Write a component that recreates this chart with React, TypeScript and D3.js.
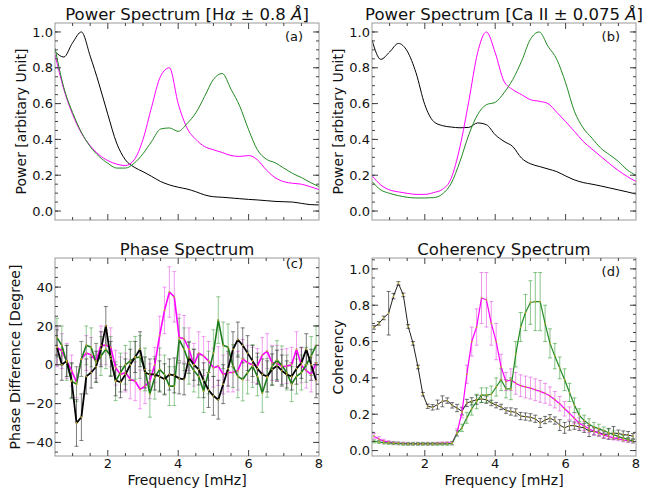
import React from 'react';
import * as d3 from 'd3';

// frequency grid (mHz) for the power spectra
const freqPow = [0.5, 0.75, 1, 1.25, 1.5, 1.75, 2, 2.25, 2.5, 2.75, 3, 3.25, 3.5, 3.75, 4, 4.25,
  4.5, 4.75, 5, 5.25, 5.5, 5.75, 6, 6.25, 6.5, 6.75, 7, 7.25, 7.5, 7.75, 8];

// (a) H-alpha power
const haBlack = [0.89, 0.86, 0.94, 1.0, 0.865, 0.71, 0.54, 0.38, 0.286, 0.245, 0.22, 0.193, 0.165, 0.146, 0.133, 0.123,
  0.108, 0.09, 0.08, 0.077, 0.073, 0.069, 0.065, 0.062, 0.058, 0.054, 0.052, 0.05, 0.043, 0.036, 0.034];
const haMagenta = [0.875, 0.68, 0.54, 0.435, 0.365, 0.314, 0.282, 0.262, 0.254, 0.286, 0.40, 0.585, 0.753, 0.80, 0.60, 0.464,
  0.40, 0.36, 0.342, 0.327, 0.31, 0.305, 0.31, 0.286, 0.23, 0.187, 0.164, 0.155, 0.15, 0.136, 0.12];
const haGreen = [0.91, 0.69, 0.55, 0.44, 0.36, 0.305, 0.267, 0.24, 0.24, 0.267, 0.32, 0.39, 0.458, 0.464, 0.445, 0.488,
  0.548, 0.64, 0.735, 0.768, 0.68, 0.585, 0.454, 0.342, 0.29, 0.27, 0.24, 0.21, 0.187, 0.16, 0.136];

// (b) Ca II power
const caBlack = [0.955, 0.847, 0.888, 0.936, 0.893, 0.772, 0.594, 0.50, 0.477, 0.469, 0.465, 0.467, 0.492, 0.482, 0.426, 0.389,
  0.36, 0.295, 0.264, 0.249, 0.235, 0.22, 0.196, 0.174, 0.159, 0.15, 0.14, 0.129, 0.118, 0.107, 0.095];
const caMagenta = [0.198, 0.146, 0.118, 0.107, 0.099, 0.093, 0.093, 0.103, 0.121, 0.183, 0.36, 0.613, 0.884, 1.0, 0.884, 0.725,
  0.678, 0.65, 0.622, 0.613, 0.60, 0.551, 0.50, 0.445, 0.389, 0.346, 0.305, 0.264, 0.226, 0.193, 0.165];
const caGreen = [0.165, 0.118, 0.099, 0.086, 0.077, 0.073, 0.073, 0.075, 0.095, 0.155, 0.277, 0.426, 0.538, 0.594, 0.607, 0.66,
  0.735, 0.837, 0.959, 1.0, 0.92, 0.847, 0.716, 0.557, 0.464, 0.407, 0.351, 0.314, 0.277, 0.23, 0.20];

// frequency bins (mHz) for phase and coherency
const freqCross = [
  0.556, 0.694, 0.833, 0.972, 1.111, 1.250, 1.389, 1.528, 1.667, 1.806,
  1.944, 2.083, 2.222, 2.361, 2.500, 2.639, 2.778, 2.917, 3.056, 3.194,
  3.333, 3.472, 3.611, 3.750, 3.889, 4.028, 4.167, 4.306, 4.444, 4.583,
  4.722, 4.861, 5.000, 5.139, 5.278, 5.417, 5.556, 5.694, 5.833, 5.972,
  6.111, 6.250, 6.389, 6.528, 6.667, 6.806, 6.944, 7.083, 7.222, 7.361,
  7.500, 7.639, 7.778, 7.917];

// (c) phase difference, degrees
const phaseBlack = [
  9, 0, 2, -8, -30, -27, -6, -4, -1, 8,
  20, 3, -8, -9, -5, 0, 4, 8, -4, -5,
  -5, -6, -7.5, -5, -5.5, -7, -7.5, 3.6, 0, -2.4,
  -8, -13, -16, -18, -10, -2, 8, 13, 10, 6,
  2, -2, -5, -6, -2.4, -0.5, -3, -5, -6, -2,
  1, 8, 0, -8];
const phaseMagenta = [
  9, 7, 2, -3, -9, 3, 6, 5, 2, 10,
  10, 9, -1.5, -5, -4, -7.5, -8.5, -12.7, -11, -8.5,
  0, 15, 28, 37.5, 35, 14, 13.4, 8, 0, 6,
  4.5, 2, -1.5, -0.7, -5, -4, -4, -3, 3, 1,
  0, -0.7, 5, 7, 1, 1, -1, -0.7, 0, 8,
  -0.3, -3, -5, 1];
const phaseGreen = [
  14, 10, 1, -8.5, -10, 3, 10, 9, 1, 4.5,
  8, 4.5, -8.5, -4, 0, 2, 3.6, 4, -2.4, -15,
  -6.7, -2.4, -5, -11, -11, 13, 8, 1, -3, -6,
  -13.6, -4, 6, 23, 10, 9, -0.7, -6, -7.6, -4,
  -0.7, -6, -14.5, -6.7, -0.7, 2.4, -0.3, -4, -10, -6,
  -4, 0, 4.5, 10];
const phaseErrBlack = [
  9, 8, 8, 9, 12, 12, 9, 8, 8, 9,
  10, 9, 8, 8, 8, 8, 8, 9, 8, 8,
  8, 8, 8, 8, 9, 8, 8, 8, 8, 8,
  9, 9, 10, 10, 10, 9, 9, 9, 9, 9,
  8, 8, 8, 8, 8, 8, 8, 7, 7, 8,
  8, 8, 8, 9];
const phaseErrMagenta = [
  10, 9, 9, 8, 8, 9, 9, 9, 9, 10,
  10, 10, 9, 9, 10, 10, 10, 10, 9, 9,
  9, 10, 12, 13, 13, 12, 12, 11, 11, 11,
  10, 10, 10, 10, 10, 10, 10, 10, 10, 9,
  9, 9, 9, 9, 9, 9, 9, 9, 9, 9,
  9, 9, 9, 9];
const phaseErrGreen = [
  10, 10, 9, 9, 9, 9, 10, 10, 10, 10,
  10, 10, 10, 10, 10, 10, 11, 11, 11, 12,
  11, 11, 10, 10, 10, 11, 11, 11, 11, 11,
  11, 11, 12, 12, 12, 12, 11, 11, 11, 11,
  11, 10, 10, 10, 10, 10, 10, 9, 9, 9,
  9, 9, 10, 10];

// (d) coherency
const cohBlack = [
  0.678, 0.70, 0.73, 0.756, 0.85, 0.92, 0.857, 0.683, 0.59, 0.46,
  0.31, 0.244, 0.238, 0.253, 0.271, 0.275, 0.249, 0.234, 0.216, 0.262,
  0.271, 0.28, 0.284, 0.28, 0.262, 0.25, 0.24, 0.22, 0.215, 0.21,
  0.19, 0.187, 0.183, 0.175, 0.152, 0.168, 0.178, 0.165, 0.14, 0.125,
  0.137, 0.137, 0.13, 0.125, 0.107, 0.106, 0.10, 0.088, 0.092, 0.097,
  0.093, 0.088, 0.085, 0.079];
const cohMagenta = [
  0.079, 0.064, 0.052, 0.046, 0.042, 0.04, 0.039, 0.038, 0.038, 0.038,
  0.038, 0.038, 0.038, 0.039, 0.04, 0.041, 0.042, 0.10, 0.21, 0.42,
  0.60, 0.68, 0.84, 0.83, 0.70, 0.60, 0.46, 0.38, 0.39, 0.37,
  0.357, 0.35, 0.344, 0.335, 0.326, 0.315, 0.30, 0.28, 0.258, 0.23,
  0.205, 0.178, 0.15, 0.135, 0.12, 0.106, 0.095, 0.085, 0.078, 0.07,
  0.064, 0.058, 0.054, 0.051];
const cohGreen = [
  0.05, 0.047, 0.044, 0.042, 0.04, 0.039, 0.037, 0.037, 0.037, 0.037,
  0.037, 0.037, 0.037, 0.037, 0.037, 0.037, 0.04, 0.095, 0.125, 0.18,
  0.23, 0.27, 0.305, 0.305, 0.31, 0.35, 0.39, 0.34, 0.34, 0.53,
  0.68, 0.76, 0.815, 0.82, 0.82, 0.70, 0.59, 0.52, 0.455, 0.39,
  0.32, 0.25, 0.195, 0.165, 0.145, 0.13, 0.12, 0.11, 0.098, 0.088,
  0.078, 0.068, 0.06, 0.052];
const cohErrBlack = [
  0.01, 0.01, 0.01, 0.12, 0.015, 0.01, 0.01, 0.01, 0.01, 0.01,
  0.01, 0.012, 0.015, 0.025, 0.03, 0.015, 0.015, 0.02, 0.02, 0.02,
  0.02, 0.025, 0.02, 0.02, 0.015, 0.015, 0.015, 0.015, 0.02, 0.02,
  0.02, 0.02, 0.02, 0.02, 0.025, 0.02, 0.02, 0.02, 0.03, 0.03,
  0.025, 0.02, 0.02, 0.025, 0.03, 0.02, 0.02, 0.02, 0.03, 0.035,
  0.02, 0.02, 0.02, 0.015];
const cohErrMagenta = [
  0.015, 0.012, 0.01, 0.008, 0.008, 0.007, 0.007, 0.007, 0.007, 0.007,
  0.007, 0.007, 0.007, 0.007, 0.007, 0.007, 0.008, 0.02, 0.03, 0.05,
  0.08, 0.1, 0.14, 0.15, 0.12, 0.1, 0.07, 0.05, 0.06, 0.06,
  0.06, 0.06, 0.06, 0.06, 0.06, 0.055, 0.05, 0.045, 0.04, 0.04,
  0.035, 0.03, 0.03, 0.025, 0.02, 0.02, 0.015, 0.015, 0.012, 0.012,
  0.01, 0.01, 0.01, 0.01];
const cohErrGreen = [
  0.008, 0.008, 0.008, 0.008, 0.008, 0.008, 0.008, 0.008, 0.008, 0.008,
  0.008, 0.008, 0.008, 0.008, 0.008, 0.008, 0.01, 0.015, 0.02, 0.03,
  0.035, 0.04, 0.04, 0.04, 0.045, 0.05, 0.06, 0.05, 0.06, 0.07,
  0.08, 0.1, 0.12, 0.16, 0.16, 0.1, 0.08, 0.07, 0.06, 0.06,
  0.05, 0.04, 0.035, 0.03, 0.03, 0.025, 0.025, 0.02, 0.02, 0.02,
  0.018, 0.015, 0.012, 0.01];

const FONT = 'DejaVu Sans, Verdana, sans-serif';
const BLACK = '#000000';
const MAGENTA = '#ff00ff';
const GREEN = '#228b22';
const xDomain: [number, number] = [0.5, 8];

type Series = {
  x: number[];
  y: number[];
  err?: number[];
  color: string;
  errColor?: string;
  width: number;
  smooth?: boolean;
  dots?: boolean;
};

interface PanelProps {
  id: string;
  left: number; right: number; top: number; bottom: number;
  yDomain: [number, number];
  yMajor: number[];
  yMinor: number[];
  fmt: (v: number) => string;
  xLabels: boolean;
  title: React.ReactNode;
  titleY: number;
  tag: string;
  tagY: number;
  yLabel: string;
  yLabelX: number;
  series: Series[];
}

const Panel = (p: PanelProps) => {
  const x = d3.scaleLinear().domain(xDomain).range([p.left, p.right]);
  const y = d3.scaleLinear().domain(p.yDomain).range([p.bottom, p.top]);
  const xMajor = [2, 4, 6];
  const xMinor = d3.range(1, 8, 0.5).filter(v => v % 2 !== 0);
  const inside = (v: number) => v > p.yDomain[0] + 1e-6 && v < p.yDomain[1] - 1e-6;
  const cx = (p.left + p.right) / 2;

  const lineFor = (s: Series) => d3.line<number>()
    .x((_, i) => x(s.x[i]))
    .y(d => y(d))
    .curve(s.smooth ? d3.curveMonotoneX : d3.curveLinear)(s.y) || '';

  return (
    <g>
      <defs>
        <clipPath id={`clip-${p.id}`}>
          <rect x={p.left} y={p.top} width={p.right - p.left} height={p.bottom - p.top} />
        </clipPath>
      </defs>
      <g clipPath={`url(#clip-${p.id})`}>
        {p.series.filter(s => s.err).map((s, si) => (
          <g key={`e${si}`} stroke={s.errColor} strokeWidth={1}>
            {s.y.map((v, i) => {
              const e = s.err![i] ?? 0;
              const px = x(s.x[i]);
              const y1 = y(v - e), y2 = y(v + e);
              return (
                <g key={i}>
                  <line x1={px} x2={px} y1={y1} y2={y2} />
                  <line x1={px - 2} x2={px + 2} y1={y1} y2={y1} />
                  <line x1={px - 2} x2={px + 2} y1={y2} y2={y2} />
                </g>
              );
            })}
          </g>
        ))}
        {p.series.map((s, si) => (
          <path key={`l${si}`} d={lineFor(s)} fill="none" stroke={s.color} strokeWidth={s.width}
            strokeLinejoin="round" />
        ))}
        {p.series.filter(s => s.dots).map((s, si) => (
          <g key={`d${si}`} fill="#b8a830">
            {s.y.map((v, i) => <circle key={i} cx={x(s.x[i])} cy={y(v)} r={0.9} />)}
          </g>
        ))}
      </g>

      <rect x={p.left} y={p.top} width={p.right - p.left} height={p.bottom - p.top}
        fill="none" stroke="#999" strokeWidth={1} />

      <g stroke="#444" strokeWidth={1}>
        {xMajor.map(v => (
          <g key={`xM${v}`}>
            <line x1={x(v)} x2={x(v)} y1={p.bottom} y2={p.bottom - 6} />
            <line x1={x(v)} x2={x(v)} y1={p.top} y2={p.top + 6} />
          </g>
        ))}
        {xMinor.map(v => (
          <g key={`xm${v}`}>
            <line x1={x(v)} x2={x(v)} y1={p.bottom} y2={p.bottom - 3} />
            <line x1={x(v)} x2={x(v)} y1={p.top} y2={p.top + 3} />
          </g>
        ))}
        {p.yMajor.filter(inside).map(v => (
          <g key={`yM${v}`}>
            <line x1={p.left} x2={p.left + 6} y1={y(v)} y2={y(v)} />
            <line x1={p.right} x2={p.right - 6} y1={y(v)} y2={y(v)} />
          </g>
        ))}
        {p.yMinor.filter(inside).map(v => (
          <g key={`ym${v}`}>
            <line x1={p.left} x2={p.left + 3} y1={y(v)} y2={y(v)} />
            <line x1={p.right} x2={p.right - 3} y1={y(v)} y2={y(v)} />
          </g>
        ))}
      </g>

      <g fontFamily={FONT} fontSize={13} fill="#111">
        {p.yMajor.map(v => (
          <text key={`yl${v}`} x={p.left - 2} y={y(v)} dy="0.36em" textAnchor="end">{p.fmt(v)}</text>
        ))}
        {p.xLabels && [2, 4, 6, 8].map(v => (
          <text key={`xl${v}`} x={x(v)} y={p.bottom + 12} textAnchor="middle">{v}</text>
        ))}
      </g>

      {p.xLabels && (
        <text x={cx} y={p.bottom + 28.5} textAnchor="middle" fontFamily={FONT} fontSize={14} fill="#111">
          Frequency [mHz]
        </text>
      )}
      <text transform={`translate(${p.yLabelX},${(p.top + p.bottom) / 2}) rotate(-90)`}
        textAnchor="middle" fontFamily={FONT} fontSize={14} fill="#111">{p.yLabel}</text>
      <text x={cx} y={p.titleY} textAnchor="middle" fontFamily={FONT} fontSize={16.5} fill="#111">{p.title}</text>
      <text x={p.right - 16} y={p.tagY} textAnchor="end" fontFamily={FONT} fontSize={13} fill="#111">{p.tag}</text>
    </g>
  );
};

const fmt1 = (v: number) => v.toFixed(1);
const fmtDeg = (v: number) => (v < 0 ? '\u2212' + Math.abs(v) : String(v));

export default function App() {
  const powMajor = d3.range(0, 1.01, 0.2);
  const powMinor = d3.range(-0.05, 1.06, 0.05).map(v => Math.round(v * 100) / 100);
  const phMajor = [-40, -20, 0, 20, 40];
  const phMinor = d3.range(-45, 56, 5);

  return (
    <svg width={648} height={496} viewBox="0 0 648 496"
      style={{ position: 'absolute', left: 0, top: 0, background: '#fff' }}>
      <rect width={648} height={496} fill="#fff" />
      <Panel id="a" left={55} right={319} top={23} bottom={220}
        yDomain={[-0.05, 1.05]} yMajor={powMajor} yMinor={powMinor} fmt={fmt1}
        xLabels={false} titleY={19.5} tag="(a)" tagY={41}
        title={<>Power Spectrum [H<tspan fontStyle="italic">α</tspan> ± 0.8 <tspan fontStyle="italic">Å</tspan>]</>}
        yLabel="Power [arbitary Unit]" yLabelX={26}
        series={[
          { x: freqPow, y: haBlack, color: BLACK, width: 1, smooth: true },
          { x: freqPow, y: haMagenta, color: MAGENTA, width: 1, smooth: true },
          { x: freqPow, y: haGreen, color: GREEN, width: 1, smooth: true },
        ]} />
      <Panel id="b" left={372} right={636} top={23} bottom={220}
        yDomain={[-0.05, 1.05]} yMajor={powMajor} yMinor={powMinor} fmt={fmt1}
        xLabels={false} titleY={19.5} tag="(b)" tagY={41}
        title={<>Power Spectrum [Ca II ± 0.075 <tspan fontStyle="italic">Å</tspan>]</>}
        yLabel="Power [arbitary Unit]" yLabelX={343}
        series={[
          { x: freqPow, y: caBlack, color: BLACK, width: 1, smooth: true },
          { x: freqPow, y: caMagenta, color: MAGENTA, width: 1, smooth: true },
          { x: freqPow, y: caGreen, color: GREEN, width: 1, smooth: true },
        ]} />
      <Panel id="c" left={55} right={319} top={258} bottom={456}
        yDomain={[-47, 55]} yMajor={phMajor} yMinor={phMinor} fmt={fmtDeg}
        xLabels={true} titleY={255} tag="(c)" tagY={268}
        title="Phase Spectrum"
        yLabel="Phase Difference [Degree]" yLabelX={20}
        series={[
          { x: freqCross, y: phaseMagenta, err: phaseErrMagenta, color: MAGENTA, errColor: 'rgba(230,80,230,0.55)', width: 1.6, dots: true },
          { x: freqCross, y: phaseGreen, err: phaseErrGreen, color: '#1a7d1a', errColor: 'rgba(40,150,40,0.5)', width: 1.6, dots: true },
          { x: freqCross, y: phaseBlack, err: phaseErrBlack, color: BLACK, errColor: 'rgba(40,40,40,0.6)', width: 1.8, dots: true },
        ]} />
      <Panel id="d" left={372} right={636} top={258} bottom={456}
        yDomain={[-0.03, 1.06]} yMajor={powMajor} yMinor={powMinor} fmt={fmt1}
        xLabels={true} titleY={255} tag="(d)" tagY={276}
        title="Coherency Spectrum"
        yLabel="Coherency" yLabelX={343}
        series={[
          { x: freqCross, y: cohBlack, err: cohErrBlack, color: '#222', errColor: 'rgba(40,40,40,0.65)', width: 1, dots: true },
          { x: freqCross, y: cohMagenta, err: cohErrMagenta, color: MAGENTA, errColor: 'rgba(220,70,220,0.55)', width: 1.2, dots: true },
          { x: freqCross, y: cohGreen, err: cohErrGreen, color: GREEN, errColor: 'rgba(40,150,40,0.55)', width: 1.2, dots: true },
        ]} />
    </svg>
  );
}
